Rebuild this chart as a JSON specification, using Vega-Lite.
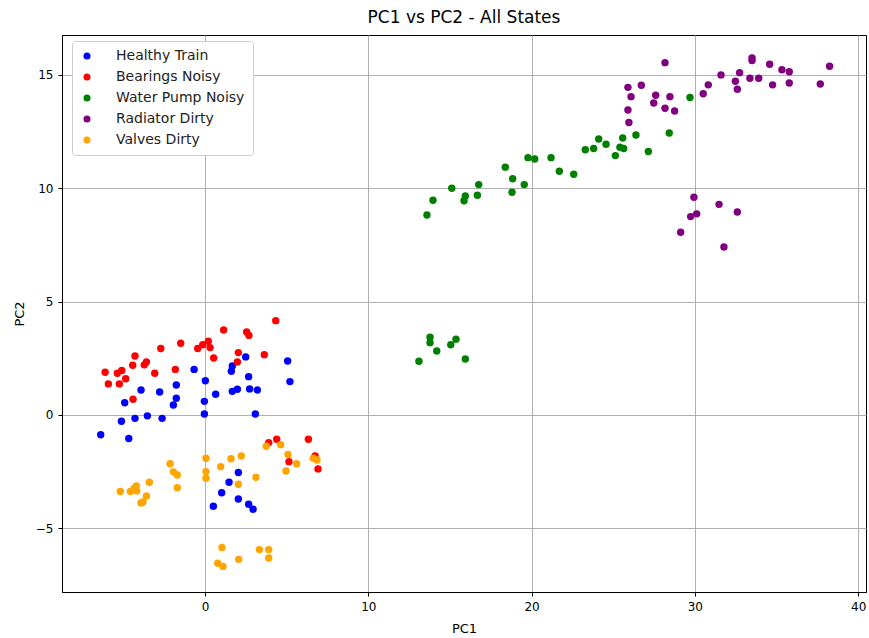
{
  "$schema": "https://vega.github.io/schema/vega-lite/v6.json",
  "width": 804,
  "height": 557,
  "autosize": "none",
  "padding": {"left": 62, "top": 35, "right": 3, "bottom": 46},
  "background": "white",
  "title": {"text": "PC1 vs PC2 - All States", "font": "DejaVu Sans", "fontSize": 17, "fontWeight": "normal", "color": "black", "anchor": "middle", "offset": 8},
  "config": {
    "font": "DejaVu Sans",
    "view": {"stroke": "black", "strokeWidth": 1},
    "axis": {"labelFont": "DejaVu Sans", "labelFontSize": 12, "labelColor": "black", "titleFont": "DejaVu Sans", "titleFontSize": 13, "titleFontWeight": "normal", "titleColor": "black", "domainColor": "black", "tickColor": "black", "tickSize": 4, "gridColor": "#b0b0b0", "gridWidth": 1, "labelPadding": 5}
  },
  "data": {"values": [
    {"s":"Healthy Train","x":-6.39,"y":-0.87},
    {"s":"Healthy Train","x":-5.12,"y":-0.28},
    {"s":"Healthy Train","x":-4.92,"y":0.54},
    {"s":"Healthy Train","x":-4.67,"y":-1.04},
    {"s":"Healthy Train","x":-4.29,"y":-0.15},
    {"s":"Healthy Train","x":-3.92,"y":1.10},
    {"s":"Healthy Train","x":-3.53,"y":-0.04},
    {"s":"Healthy Train","x":-2.78,"y":1.01},
    {"s":"Healthy Train","x":-2.63,"y":-0.15},
    {"s":"Healthy Train","x":-1.76,"y":1.32},
    {"s":"Healthy Train","x":-1.76,"y":0.74},
    {"s":"Healthy Train","x":-1.94,"y":0.44},
    {"s":"Healthy Train","x":-0.67,"y":2.01},
    {"s":"Healthy Train","x":0.02,"y":1.51},
    {"s":"Healthy Train","x":-0.04,"y":0.60},
    {"s":"Healthy Train","x":-0.04,"y":0.04},
    {"s":"Healthy Train","x":0.65,"y":0.91},
    {"s":"Healthy Train","x":1.61,"y":1.93},
    {"s":"Healthy Train","x":1.67,"y":2.16},
    {"s":"Healthy Train","x":2.49,"y":2.56},
    {"s":"Healthy Train","x":2.67,"y":1.69},
    {"s":"Healthy Train","x":1.67,"y":1.04},
    {"s":"Healthy Train","x":1.98,"y":1.13},
    {"s":"Healthy Train","x":2.73,"y":1.15},
    {"s":"Healthy Train","x":3.20,"y":1.10},
    {"s":"Healthy Train","x":3.08,"y":0.04},
    {"s":"Healthy Train","x":5.06,"y":2.38},
    {"s":"Healthy Train","x":5.20,"y":1.47},
    {"s":"Healthy Train","x":2.04,"y":-2.54},
    {"s":"Healthy Train","x":1.47,"y":-2.97},
    {"s":"Healthy Train","x":1.02,"y":-3.43},
    {"s":"Healthy Train","x":0.51,"y":-4.03},
    {"s":"Healthy Train","x":2.04,"y":-3.71},
    {"s":"Healthy Train","x":2.67,"y":-3.94},
    {"s":"Healthy Train","x":2.94,"y":-4.16},
    {"s":"Bearings Noisy","x":-6.12,"y":1.88},
    {"s":"Bearings Noisy","x":-5.92,"y":1.37},
    {"s":"Bearings Noisy","x":-5.37,"y":1.84},
    {"s":"Bearings Noisy","x":-5.25,"y":1.37},
    {"s":"Bearings Noisy","x":-5.10,"y":1.96},
    {"s":"Bearings Noisy","x":-4.86,"y":1.60},
    {"s":"Bearings Noisy","x":-4.43,"y":2.19},
    {"s":"Bearings Noisy","x":-4.29,"y":2.60},
    {"s":"Bearings Noisy","x":-4.41,"y":0.69},
    {"s":"Bearings Noisy","x":-3.72,"y":2.21},
    {"s":"Bearings Noisy","x":-3.59,"y":2.34},
    {"s":"Bearings Noisy","x":-3.08,"y":1.84},
    {"s":"Bearings Noisy","x":-2.71,"y":2.93},
    {"s":"Bearings Noisy","x":-1.82,"y":2.01},
    {"s":"Bearings Noisy","x":-1.49,"y":3.16},
    {"s":"Bearings Noisy","x":-0.45,"y":2.93},
    {"s":"Bearings Noisy","x":-0.14,"y":3.10},
    {"s":"Bearings Noisy","x":0.20,"y":3.25},
    {"s":"Bearings Noisy","x":0.31,"y":2.97},
    {"s":"Bearings Noisy","x":0.53,"y":2.51},
    {"s":"Bearings Noisy","x":1.14,"y":3.75},
    {"s":"Bearings Noisy","x":2.04,"y":2.75},
    {"s":"Bearings Noisy","x":1.98,"y":2.34},
    {"s":"Bearings Noisy","x":2.55,"y":3.66},
    {"s":"Bearings Noisy","x":2.69,"y":3.51},
    {"s":"Bearings Noisy","x":3.63,"y":2.66},
    {"s":"Bearings Noisy","x":4.33,"y":4.16},
    {"s":"Bearings Noisy","x":3.90,"y":-1.22},
    {"s":"Bearings Noisy","x":4.39,"y":-1.07},
    {"s":"Bearings Noisy","x":6.33,"y":-1.07},
    {"s":"Bearings Noisy","x":6.74,"y":-1.81},
    {"s":"Bearings Noisy","x":5.14,"y":-2.06},
    {"s":"Bearings Noisy","x":6.92,"y":-2.38},
    {"s":"Water Pump Noisy","x":13.59,"y":8.82},
    {"s":"Water Pump Noisy","x":13.96,"y":9.47},
    {"s":"Water Pump Noisy","x":15.11,"y":10.00},
    {"s":"Water Pump Noisy","x":15.94,"y":9.66},
    {"s":"Water Pump Noisy","x":15.86,"y":9.45},
    {"s":"Water Pump Noisy","x":16.68,"y":9.69},
    {"s":"Water Pump Noisy","x":16.76,"y":10.16},
    {"s":"Water Pump Noisy","x":18.39,"y":10.93},
    {"s":"Water Pump Noisy","x":18.84,"y":10.42},
    {"s":"Water Pump Noisy","x":18.80,"y":9.82},
    {"s":"Water Pump Noisy","x":19.55,"y":10.16},
    {"s":"Water Pump Noisy","x":19.78,"y":11.35},
    {"s":"Water Pump Noisy","x":20.19,"y":11.29},
    {"s":"Water Pump Noisy","x":21.19,"y":11.35},
    {"s":"Water Pump Noisy","x":21.70,"y":10.75},
    {"s":"Water Pump Noisy","x":22.58,"y":10.62},
    {"s":"Water Pump Noisy","x":23.29,"y":11.70},
    {"s":"Water Pump Noisy","x":23.80,"y":11.75},
    {"s":"Water Pump Noisy","x":24.11,"y":12.17},
    {"s":"Water Pump Noisy","x":24.56,"y":11.94},
    {"s":"Water Pump Noisy","x":25.13,"y":11.44},
    {"s":"Water Pump Noisy","x":25.41,"y":11.81},
    {"s":"Water Pump Noisy","x":25.64,"y":11.75},
    {"s":"Water Pump Noisy","x":25.58,"y":12.22},
    {"s":"Water Pump Noisy","x":26.39,"y":12.35},
    {"s":"Water Pump Noisy","x":27.15,"y":11.62},
    {"s":"Water Pump Noisy","x":28.43,"y":12.44},
    {"s":"Water Pump Noisy","x":29.70,"y":14.00},
    {"s":"Water Pump Noisy","x":13.78,"y":3.43},
    {"s":"Water Pump Noisy","x":13.78,"y":3.19},
    {"s":"Water Pump Noisy","x":14.19,"y":2.82},
    {"s":"Water Pump Noisy","x":13.10,"y":2.37},
    {"s":"Water Pump Noisy","x":15.05,"y":3.10},
    {"s":"Water Pump Noisy","x":15.37,"y":3.34},
    {"s":"Water Pump Noisy","x":15.94,"y":2.47},
    {"s":"Radiator Dirty","x":28.17,"y":15.54},
    {"s":"Radiator Dirty","x":25.90,"y":14.45},
    {"s":"Radiator Dirty","x":26.09,"y":14.04},
    {"s":"Radiator Dirty","x":25.90,"y":13.45},
    {"s":"Radiator Dirty","x":25.96,"y":12.90},
    {"s":"Radiator Dirty","x":26.72,"y":14.54},
    {"s":"Radiator Dirty","x":27.60,"y":14.10},
    {"s":"Radiator Dirty","x":27.48,"y":13.76},
    {"s":"Radiator Dirty","x":28.17,"y":13.53},
    {"s":"Radiator Dirty","x":28.47,"y":14.04},
    {"s":"Radiator Dirty","x":28.76,"y":13.41},
    {"s":"Radiator Dirty","x":30.51,"y":14.17},
    {"s":"Radiator Dirty","x":30.82,"y":14.56},
    {"s":"Radiator Dirty","x":31.60,"y":15.00},
    {"s":"Radiator Dirty","x":32.48,"y":14.72},
    {"s":"Radiator Dirty","x":32.60,"y":14.37},
    {"s":"Radiator Dirty","x":32.74,"y":15.10},
    {"s":"Radiator Dirty","x":33.37,"y":14.85},
    {"s":"Radiator Dirty","x":33.50,"y":15.75},
    {"s":"Radiator Dirty","x":33.50,"y":15.63},
    {"s":"Radiator Dirty","x":33.91,"y":14.85},
    {"s":"Radiator Dirty","x":34.58,"y":15.47},
    {"s":"Radiator Dirty","x":34.76,"y":14.56},
    {"s":"Radiator Dirty","x":35.33,"y":15.23},
    {"s":"Radiator Dirty","x":35.78,"y":15.14},
    {"s":"Radiator Dirty","x":35.78,"y":14.64},
    {"s":"Radiator Dirty","x":37.68,"y":14.60},
    {"s":"Radiator Dirty","x":38.25,"y":15.38},
    {"s":"Radiator Dirty","x":29.94,"y":9.60},
    {"s":"Radiator Dirty","x":31.48,"y":9.29},
    {"s":"Radiator Dirty","x":32.60,"y":8.95},
    {"s":"Radiator Dirty","x":30.11,"y":8.87},
    {"s":"Radiator Dirty","x":29.74,"y":8.75},
    {"s":"Radiator Dirty","x":29.13,"y":8.06},
    {"s":"Radiator Dirty","x":31.78,"y":7.41},
    {"s":"Valves Dirty","x":0.06,"y":-1.91},
    {"s":"Valves Dirty","x":0.06,"y":-2.50},
    {"s":"Valves Dirty","x":0.06,"y":-2.79},
    {"s":"Valves Dirty","x":0.96,"y":-2.28},
    {"s":"Valves Dirty","x":1.59,"y":-1.93},
    {"s":"Valves Dirty","x":2.22,"y":-1.81},
    {"s":"Valves Dirty","x":2.04,"y":-3.06},
    {"s":"Valves Dirty","x":3.12,"y":-2.75},
    {"s":"Valves Dirty","x":3.75,"y":-1.38},
    {"s":"Valves Dirty","x":4.63,"y":-1.31},
    {"s":"Valves Dirty","x":5.08,"y":-1.74},
    {"s":"Valves Dirty","x":5.61,"y":-2.15},
    {"s":"Valves Dirty","x":4.96,"y":-2.47},
    {"s":"Valves Dirty","x":6.63,"y":-1.91},
    {"s":"Valves Dirty","x":6.86,"y":-1.99},
    {"s":"Valves Dirty","x":1.04,"y":-5.85},
    {"s":"Valves Dirty","x":0.78,"y":-6.54},
    {"s":"Valves Dirty","x":1.10,"y":-6.68},
    {"s":"Valves Dirty","x":2.06,"y":-6.37},
    {"s":"Valves Dirty","x":3.33,"y":-5.94},
    {"s":"Valves Dirty","x":3.90,"y":-5.94},
    {"s":"Valves Dirty","x":3.90,"y":-6.31},
    {"s":"Valves Dirty","x":-5.19,"y":-3.38},
    {"s":"Valves Dirty","x":-4.57,"y":-3.38},
    {"s":"Valves Dirty","x":-4.35,"y":-3.24},
    {"s":"Valves Dirty","x":-4.21,"y":-3.13},
    {"s":"Valves Dirty","x":-4.18,"y":-3.35},
    {"s":"Valves Dirty","x":-3.92,"y":-3.88},
    {"s":"Valves Dirty","x":-3.80,"y":-3.84},
    {"s":"Valves Dirty","x":-3.59,"y":-3.57},
    {"s":"Valves Dirty","x":-3.41,"y":-2.97},
    {"s":"Valves Dirty","x":-2.14,"y":-2.15},
    {"s":"Valves Dirty","x":-1.94,"y":-2.51},
    {"s":"Valves Dirty","x":-1.70,"y":-2.65},
    {"s":"Valves Dirty","x":-1.70,"y":-3.21}
  ]},
  "mark": {"type": "circle", "size": 55, "opacity": 1},
  "encoding": {
    "x": {"field": "x", "type": "quantitative", "title": "PC1",
      "scale": {"domain": [-8.76, 40.48], "nice": false, "zero": false},
      "axis": {"values": [0, 10, 20, 30, 40], "grid": true, "titlePadding": 10}},
    "y": {"field": "y", "type": "quantitative", "title": "PC2",
      "scale": {"domain": [-7.81, 16.76], "nice": false, "zero": false},
      "axis": {"values": [-5, 0, 5, 10, 15], "grid": true, "titlePadding": 9}},
    "color": {"field": "s", "type": "nominal", "title": null,
      "scale": {"domain": ["Healthy Train", "Bearings Noisy", "Water Pump Noisy", "Radiator Dirty", "Valves Dirty"],
                "range": ["#0000ff", "#ff0000", "#008000", "#800080", "#ffa500"]},
      "legend": {"orient": "none", "legendX": 10, "legendY": 6, "fillColor": "white", "strokeColor": "#cccccc", "cornerRadius": 3, "padding": 8, "symbolType": "circle", "symbolSize": 50, "symbolStrokeWidth": 0, "labelFontSize": 14, "labelFont": "DejaVu Sans", "labelColor": "#222222", "labelOffset": 22, "rowPadding": 7, "offset": 0}}
  }
}
